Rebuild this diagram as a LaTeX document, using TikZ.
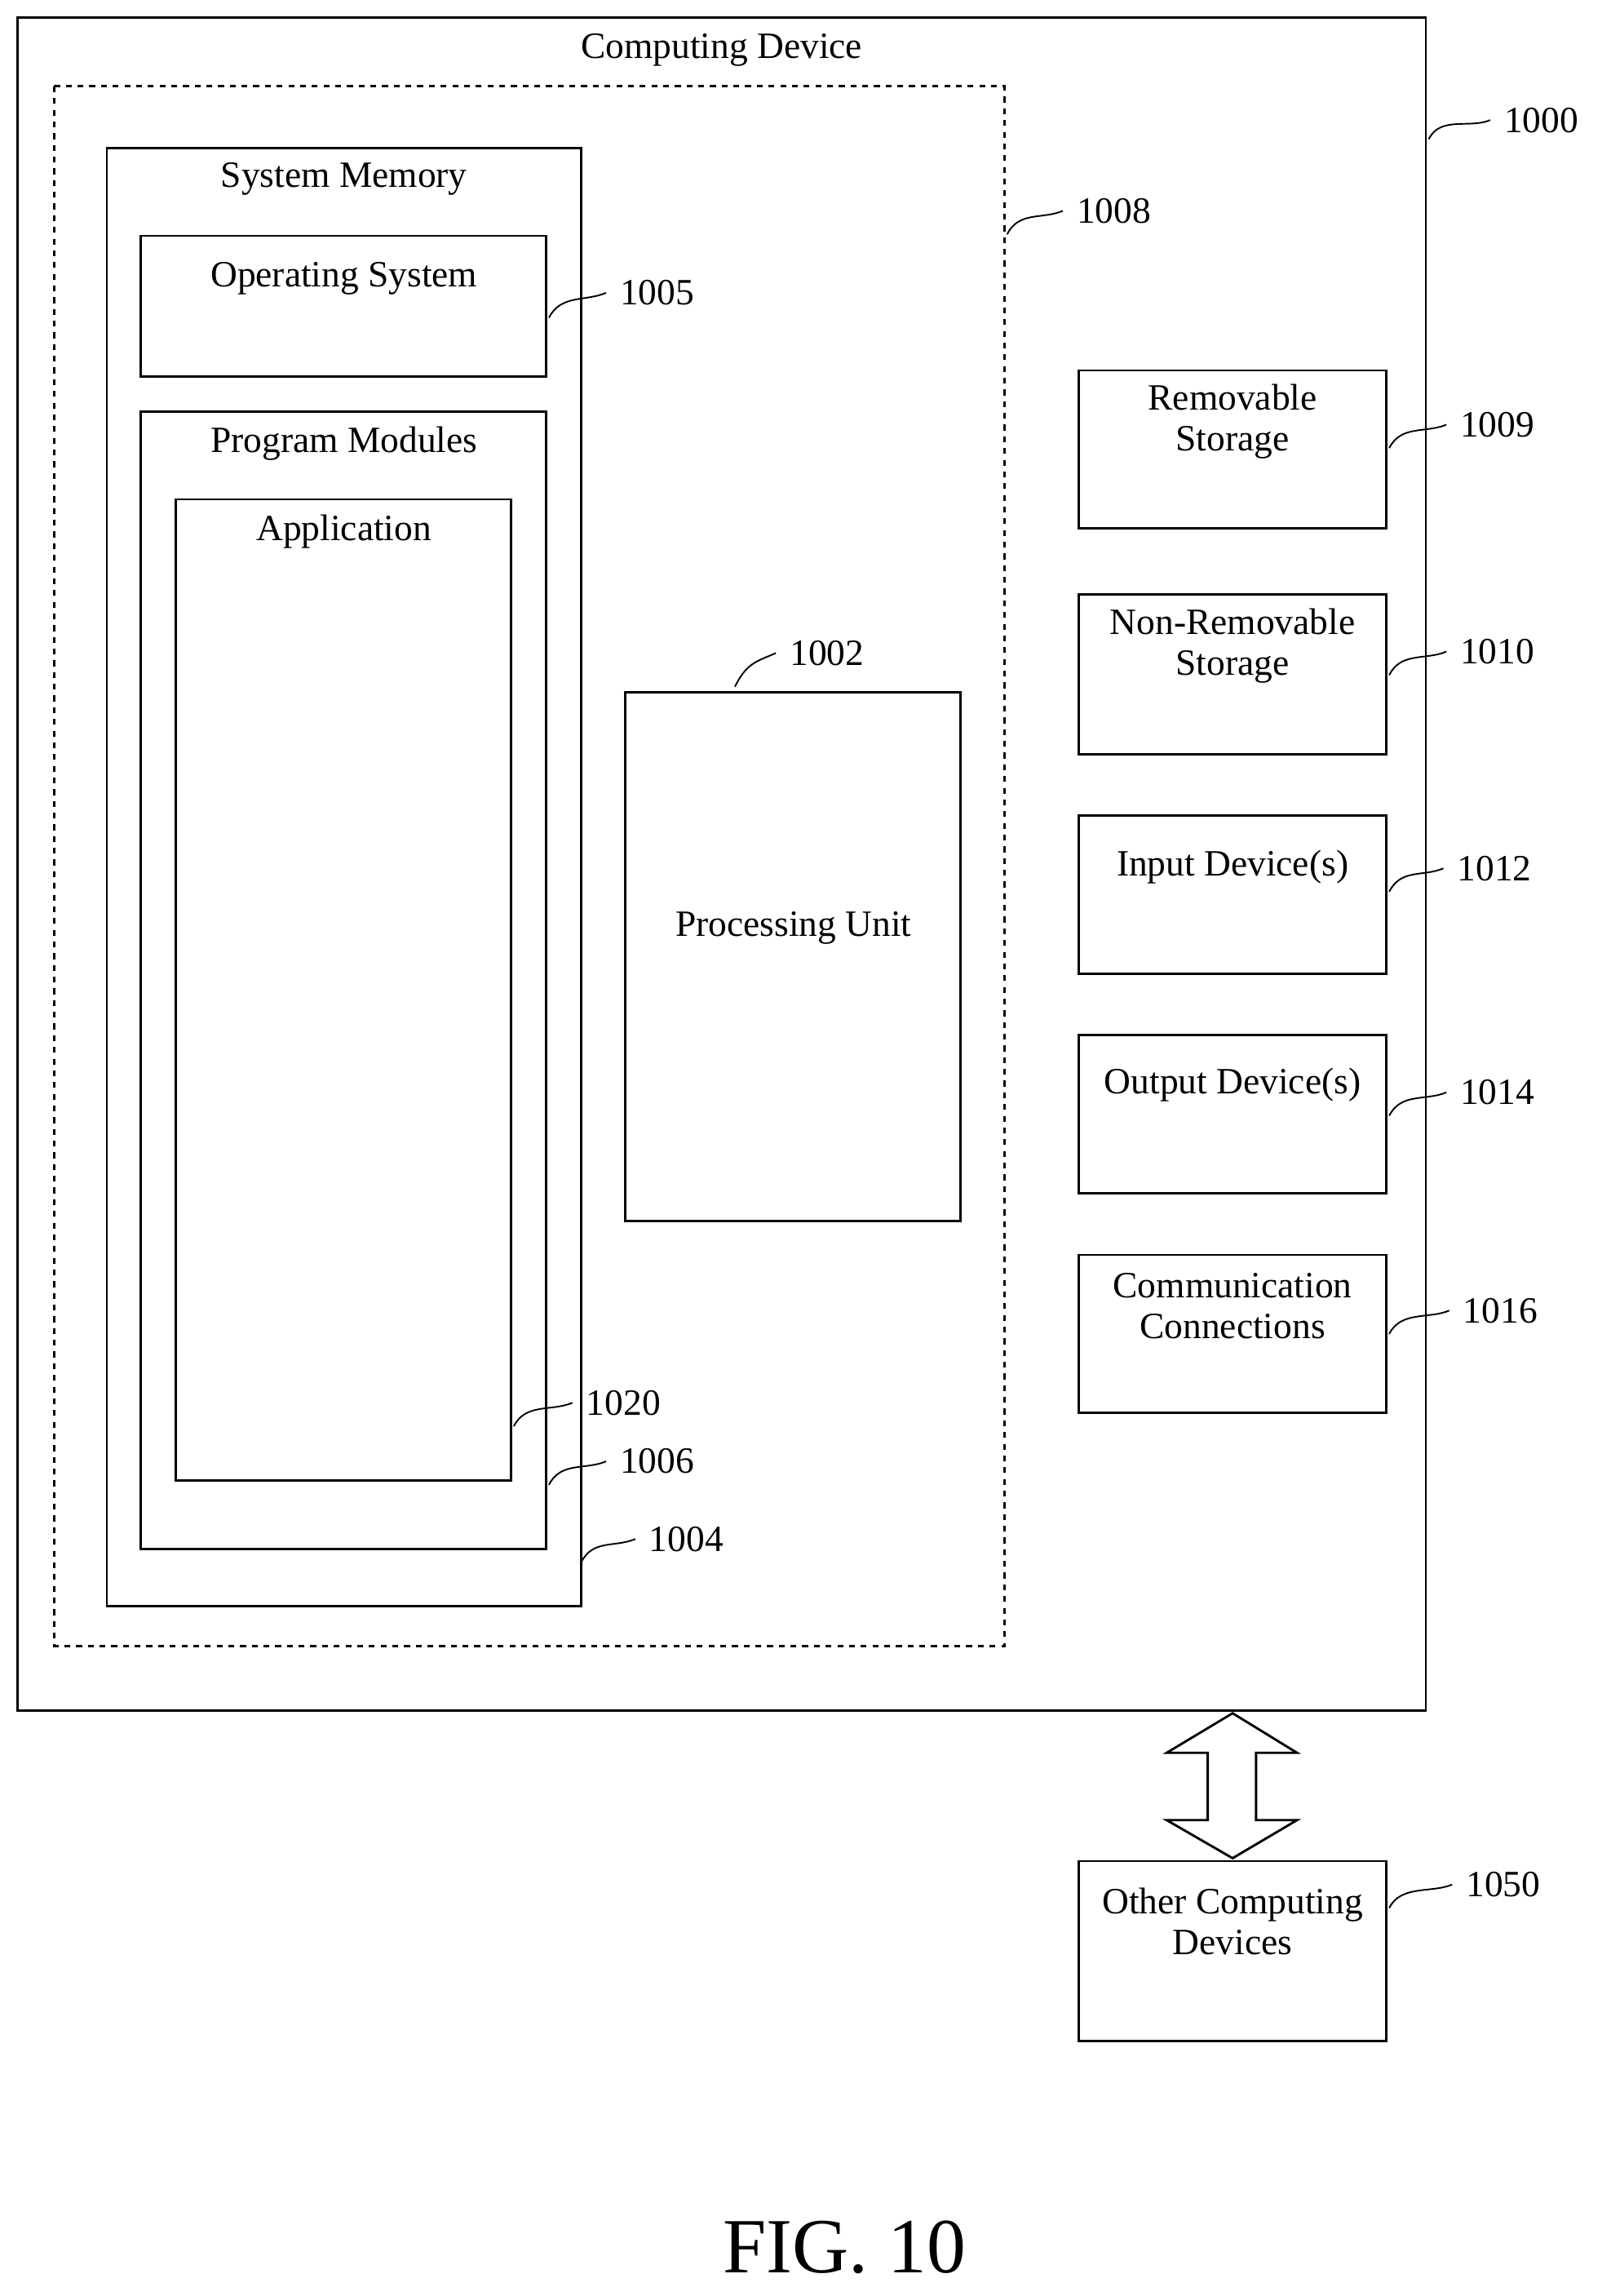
\documentclass[tikz,border=0pt]{standalone}
\usepackage{fontspec}
\setmainfont{Liberation Serif}
\tikzset{every picture/.style={line width=1.2pt}}
\tikzset{lbl/.style={inner sep=0.75pt,font=\fontsize{19}{21}\selectfont,align=center},
  lead/.style={line width=0.8pt}}
\newcommand{\leader}[3]{\draw[lead] #1 .. controls +(8,-16) and +(-14,6) .. #2 node[lbl,anchor=west,xshift=6pt] {#3};}
\begin{document}
\begin{tikzpicture}[x=0.75pt,y=0.75pt,yscale=-1,xscale=1]
\useasboundingbox (0,0) rectangle (1100,1568);
%outer device
\draw (12,12) rectangle (974,1168);
\node[lbl] (cd) at (493,34) {Computing Device};
\draw[dashed] (37,59) rectangle (686,1124);
%system memory
\draw (73,101) rectangle (397,1097);
\node[lbl] (sm) at (235,122) {System Memory};
\draw (96,161) rectangle (373,257);
\node[lbl] (os) at (235,190) {Operating System};
\draw (96,281) rectangle (373,1058);
\node[lbl] (pm) at (235,303) {Program Modules};
\draw (120,341) rectangle (349,1011);
\node[lbl] (app) at (235,363) {Application};
%processing unit
\draw (427,473) rectangle (656,834);
\node[lbl] (pu) at (542,634) {Processing Unit};
%right column
\draw (737,253) rectangle (947,361);
\node[lbl] (rs) at (842,288) {Removable\\Storage};
\draw (737,406) rectangle (947,515);
\node[lbl] (nrs) at (842,441) {Non-Removable\\Storage};
\draw (737,557) rectangle (947,665);
\node[lbl] (in) at (842,592) {Input Device(s)};
\draw (737,707) rectangle (947,815);
\node[lbl] (out) at (842,741) {Output Device(s)};
\draw (737,857) rectangle (947,965);
\node[lbl] (cc) at (842,892) {Communication\\Connections};
\draw (737,1271) rectangle (947,1394);
\node[lbl] (ocd) at (842,1312) {Other Computing\\Devices};
%double arrow
\draw (842,1170) -- (886,1197) -- (858,1197) -- (858,1243) -- (886,1243) -- (842,1269)
  -- (797,1243) -- (825,1243) -- (825,1197) -- (797,1197) -- cycle;
%reference numbers
\leader{(976,95)}{(1018,82)}{1000}
\leader{(688,160)}{(726,144)}{1008}
\leader{(375,217)}{(414,200)}{1005}
\leader{(949,306)}{(988,290)}{1009}
\leader{(949,461)}{(988,445)}{1010}
\leader{(949,609)}{(986,593)}{1012}
\leader{(949,762)}{(988,746)}{1014}
\leader{(949,911)}{(990,895)}{1016}
\leader{(949,1303)}{(992,1287)}{1050}
\leader{(502,469)}{(530,446)}{1002}
\leader{(351,974)}{(391,958)}{1020}
\leader{(375,1014)}{(414,998)}{1006}
\leader{(397,1067)}{(434,1051)}{1004}
\node[inner sep=0.75pt,font=\fontsize{40}{44}\selectfont] (fig) at (577,1535) {FIG. 10};
\end{tikzpicture}
\end{document}
